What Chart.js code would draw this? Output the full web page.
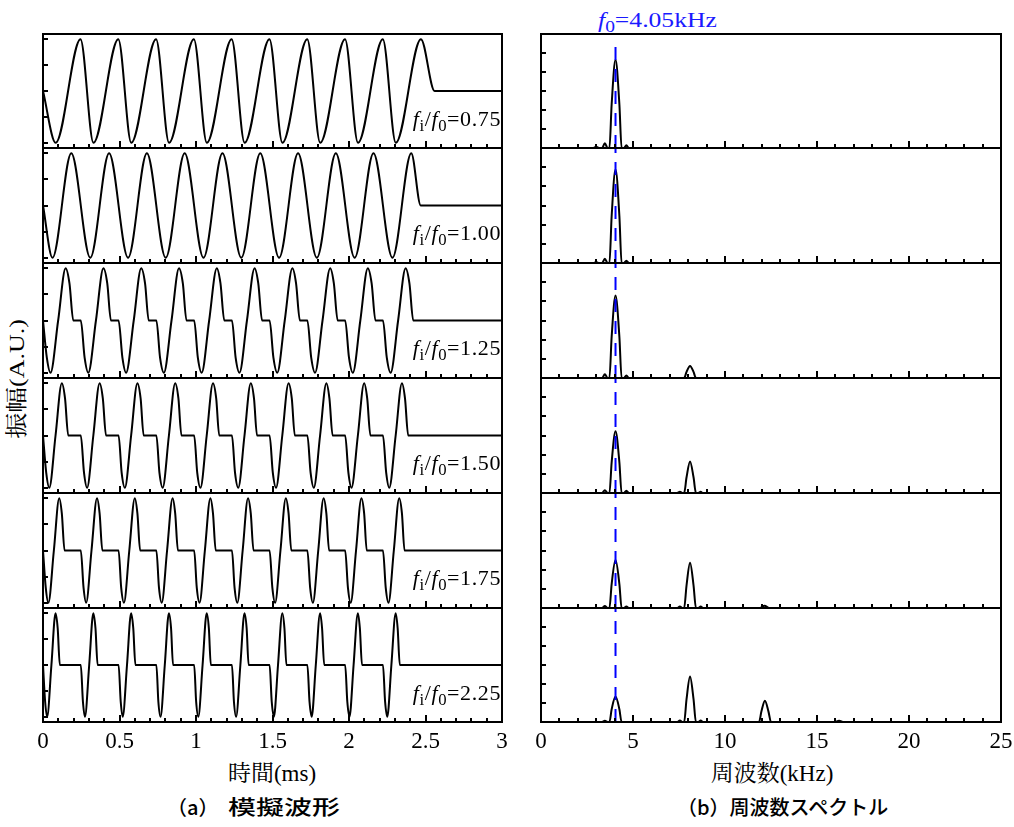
<!DOCTYPE html>
<html lang="ja">
<head>
<meta charset="UTF-8">
<title>模擬波形と周波数スペクトル</title>
<script src="https://cdn.jsdelivr.net/npm/chart.js"></script>
<style>
    body { margin: 0; background: #fff; }
    #page { position: relative; width: 1014px; height: 827px; overflow: hidden; }
    #page canvas { position: absolute; }
    .txt { position: absolute; white-space: nowrap; color: #000;
           font-family: "Liberation Serif", "Times New Roman", Times, "DejaVu Serif", "Noto Serif CJK JP", "Noto Sans CJK JP", serif; }
    .ratio { font-size: 22px; line-height: 22px; letter-spacing: 0.6px; }
    .txt sub { font-size: 0.76em; vertical-align: -0.3em; line-height: 0; }
    .axis-title { font-size: 23px; line-height: 24px; width: 300px; text-align: center; }
    .sub-title { font-family: "Noto Sans CJK JP", sans-serif; font-size: 20px; line-height: 24px; font-weight: 500; }
    .sub-title .wide { display: inline-block; transform: scaleX(1.4); transform-origin: 0 50%; margin-left: 9px; }
    .ytitle { font-size: 22px; line-height: 22px; transform: translate(-50%, -50%) rotate(-90deg) scaleX(1.18); }
    .f0 { color: #1a1aff; font-size: 21px; line-height: 22px; transform: scaleX(1.22); transform-origin: 0 50%; }
</style>
</head>
<body>
<div id="page">
    <div class="txt f0" style="left:598px; top:9px"><i>f</i><sub>0</sub>=4.05kHz</div>
    <div class="txt ytitle" style="left:17px; top:379px">振幅(A.U.)</div>
    <div class="txt axis-title" style="left:122px; top:762px">時間(ms)</div>
    <div class="txt axis-title" style="left:622px; top:762px">周波数(kHz)</div>
    <div class="txt sub-title" style="left:167px; top:795px">（a）<span class="wide">模擬波形</span></div>
    <div class="txt sub-title" style="left:677px; top:795px">（b）周波数スペクトル</div>
</div>

<script>
    // tick labels / categories
    const waveTicks = [0, 0.5, 1, 1.5, 2, 2.5, 3];
    const specTicks = [0, 5, 10, 15, 20, 25];
    const ratios = ['0.75', '1.00', '1.25', '1.50', '1.75', '2.25'];
    const f0 = 4.05;

    // waveforms (time ms, amplitude)
    const wave075 = [[0,0],[0.083,-1],[0.245,1],[0.330,-1],[0.492,1],[0.577,-1],[0.739,1],[0.824,-1],
        [0.986,1],[1.071,-1],[1.233,1],[1.318,-1],[1.480,1],[1.565,-1],[1.727,1],[1.812,-1],[1.974,1],
        [2.059,-1],[2.221,1],[2.306,-1],[2.470,1],[2.560,0],[3,0]];
    const wave100 = [[0,0],[0.062,-1],[0.185,1],[0.309,-1],[0.432,1],[0.556,-1],[0.679,1],[0.802,-1],
        [0.926,1],[1.049,-1],[1.173,1],[1.296,-1],[1.420,1],[1.543,-1],[1.667,1],[1.790,-1],[1.914,1],
        [2.037,-1],[2.160,1],[2.284,-1],[2.407,1],[2.469,0],[3,0]];
    const wave125 = [
        [0,0],[0.025,-0.71],[0.049,-1],[0.099,0],[0.148,1],[0.173,0.71],[0.198,0],
        [0.247,0],[0.272,-0.71],[0.296,-1],[0.346,0],[0.395,1],[0.420,0.71],[0.444,0],
        [0.494,0],[0.519,-0.71],[0.543,-1],[0.593,0],[0.642,1],[0.667,0.71],[0.691,0],
        [0.741,0],[0.765,-0.71],[0.790,-1],[0.840,0],[0.889,1],[0.914,0.71],[0.938,0],
        [0.988,0],[1.012,-0.71],[1.037,-1],[1.086,0],[1.136,1],[1.160,0.71],[1.185,0],
        [1.235,0],[1.259,-0.71],[1.284,-1],[1.333,0],[1.383,1],[1.407,0.71],[1.432,0],
        [1.481,0],[1.506,-0.71],[1.531,-1],[1.580,0],[1.630,1],[1.654,0.71],[1.679,0],
        [1.728,0],[1.753,-0.71],[1.778,-1],[1.827,0],[1.877,1],[1.901,0.71],[1.926,0],
        [1.975,0],[2.000,-0.71],[2.025,-1],[2.074,0],[2.123,1],[2.148,0.71],[2.173,0],
        [2.222,0],[2.247,-0.71],[2.272,-1],[2.321,0],[2.370,1],[2.395,0.71],[2.420,0],[3,0]];
    const wave150 = [
        [0,0],[0.021,-0.71],[0.041,-1],[0.082,0],[0.123,1],[0.144,0.71],[0.165,0],
        [0.247,0],[0.268,-0.71],[0.288,-1],[0.329,0],[0.370,1],[0.391,0.71],[0.412,0],
        [0.494,0],[0.514,-0.71],[0.535,-1],[0.576,0],[0.617,1],[0.638,0.71],[0.658,0],
        [0.741,0],[0.761,-0.71],[0.782,-1],[0.823,0],[0.864,1],[0.885,0.71],[0.905,0],
        [0.988,0],[1.008,-0.71],[1.029,-1],[1.070,0],[1.111,1],[1.132,0.71],[1.152,0],
        [1.235,0],[1.255,-0.71],[1.276,-1],[1.317,0],[1.358,1],[1.379,0.71],[1.399,0],
        [1.481,0],[1.502,-0.71],[1.523,-1],[1.564,0],[1.605,1],[1.626,0.71],[1.646,0],
        [1.728,0],[1.749,-0.71],[1.770,-1],[1.811,0],[1.852,1],[1.872,0.71],[1.893,0],
        [1.975,0],[1.996,-0.71],[2.016,-1],[2.058,0],[2.099,1],[2.119,0.71],[2.140,0],
        [2.222,0],[2.243,-0.71],[2.263,-1],[2.305,0],[2.346,1],[2.366,0.71],[2.387,0],[3,0]];
    const wave175 = [
        [0,0],[0.018,-0.71],[0.035,-1],[0.071,0],[0.106,1],[0.123,0.71],[0.141,0],
        [0.247,0],[0.265,-0.71],[0.282,-1],[0.317,0],[0.353,1],[0.370,0.71],[0.388,0],
        [0.494,0],[0.511,-0.71],[0.529,-1],[0.564,0],[0.600,1],[0.617,0.71],[0.635,0],
        [0.741,0],[0.758,-0.71],[0.776,-1],[0.811,0],[0.847,1],[0.864,0.71],[0.882,0],
        [0.988,0],[1.005,-0.71],[1.023,-1],[1.058,0],[1.094,1],[1.111,0.71],[1.129,0],
        [1.235,0],[1.252,-0.71],[1.270,-1],[1.305,0],[1.340,1],[1.358,0.71],[1.376,0],
        [1.481,0],[1.499,-0.71],[1.517,-1],[1.552,0],[1.587,1],[1.605,0.71],[1.623,0],
        [1.728,0],[1.746,-0.71],[1.764,-1],[1.799,0],[1.834,1],[1.852,0.71],[1.870,0],
        [1.975,0],[1.993,-0.71],[2.011,-1],[2.046,0],[2.081,1],[2.099,0.71],[2.116,0],
        [2.222,0],[2.240,-0.71],[2.258,-1],[2.293,0],[2.328,1],[2.346,0.71],[2.363,0],[3,0]];
    const wave225 = [
        [0,0],[0.014,-0.71],[0.027,-1],[0.055,0],[0.082,1],[0.096,0.71],[0.110,0],
        [0.247,0],[0.261,-0.71],[0.274,-1],[0.302,0],[0.329,1],[0.343,0.71],[0.357,0],
        [0.494,0],[0.508,-0.71],[0.521,-1],[0.549,0],[0.576,1],[0.590,0.71],[0.604,0],
        [0.741,0],[0.754,-0.71],[0.768,-1],[0.796,0],[0.823,1],[0.837,0.71],[0.850,0],
        [0.988,0],[1.001,-0.71],[1.015,-1],[1.043,0],[1.070,1],[1.084,0.71],[1.097,0],
        [1.235,0],[1.248,-0.71],[1.262,-1],[1.290,0],[1.317,1],[1.331,0.71],[1.344,0],
        [1.481,0],[1.495,-0.71],[1.509,-1],[1.536,0],[1.564,1],[1.578,0.71],[1.591,0],
        [1.728,0],[1.742,-0.71],[1.756,-1],[1.783,0],[1.811,1],[1.824,0.71],[1.838,0],
        [1.975,0],[1.989,-0.71],[2.003,-1],[2.030,0],[2.058,1],[2.071,0.71],[2.085,0],
        [2.222,0],[2.236,-0.71],[2.250,-1],[2.277,0],[2.305,1],[2.318,0.71],[2.332,0],[3,0]];

    // spectra (kHz, amplitude)
    const spec075 = [[0,0],[2.85,0],[3.0,0.06],[3.15,0],[3.32,0],[3.47,0.25],[3.62,0],[3.72,0],
        [3.84,2.3],[4.05,4.64],[4.26,2.3],[4.38,0],[4.5,0],[4.64,0.14],[4.78,0],[25,0]];
    const spec100 = [[0,0],[2.85,0],[3.0,0.05],[3.15,0],[3.32,0],[3.47,0.22],[3.62,0],[3.72,0],
        [3.84,2.45],[4.05,4.88],[4.26,2.45],[4.38,0],[4.5,0],[4.64,0.12],[4.78,0],[25,0]];
    const spec125 = [[0,0],[3.32,0],[3.47,0.2],[3.62,0],[3.72,0],[3.84,2.15],[4.05,4.3],[4.26,2.15],
        [4.38,0],[4.5,0],[4.64,0.13],[4.78,0],[7.78,0],[7.91,0.32],[8.1,0.63],[8.29,0.32],[8.42,0],[25,0]];
    const spec150 = [[0,0],[3.32,0],[3.47,0.15],[3.62,0],[3.72,0],[3.84,1.6],[4.05,3.22],[4.26,1.6],
        [4.38,0],[4.5,0],[4.64,0.12],[4.78,0],[7.4,0],[7.55,0.07],[7.68,0],[7.78,0],[7.91,0.82],
        [8.1,1.65],[8.29,0.82],[8.42,0],[8.55,0],[8.68,0.06],[8.8,0],[25,0]];
    const spec175 = [[0,0],[3.32,0],[3.47,0.1],[3.62,0],[3.72,0],[3.84,1.25],[4.05,2.5],[4.26,1.25],
        [4.38,0],[4.5,0],[4.64,0.08],[4.78,0],[7.4,0],[7.55,0.08],[7.68,0],[7.78,0],[7.91,1.18],
        [8.1,2.36],[8.29,1.18],[8.42,0],[8.55,0],[8.68,0.08],[8.8,0],[11.9,0],[12.15,0.12],[12.4,0],[25,0]];
    const spec225 = [[0,0],[3.32,0],[3.47,0.06],[3.62,0],[3.72,0],[3.84,0.67],[4.05,1.34],[4.26,0.67],
        [4.38,0],[7.4,0],[7.55,0.08],[7.68,0],[7.78,0],[7.91,1.2],[8.1,2.39],[8.29,1.2],[8.42,0],
        [8.55,0],[8.68,0.08],[8.8,0],[11.85,0],[11.98,0.56],[12.17,1.12],[12.36,0.56],[12.5,0],
        [15.95,0],[16.2,0.07],[16.45,0],[25,0]];

    const waves = [wave075, wave100, wave125, wave150, wave175, wave225];
    const spectra = [spec075, spec100, spec125, spec150, spec175, spec225];

    // panel geometry
    const rowEdges = [34, 148, 263, 378, 493, 608, 722];
    const leftX = [43, 502];
    const rightX = [541, 1001];
    const page = document.getElementById('page');
    const serifStack = '"Liberation Serif", "Times New Roman", Times, "DejaVu Serif", serif';

    const frame = {
        id: 'frame',
        afterDraw(chart, args, o) {
            const ctx = chart.ctx;
            const a = chart.chartArea;
            const xs = chart.scales.x, ys = chart.scales.y;
            ctx.save();
            ctx.strokeStyle = '#000';
            ctx.lineWidth = 2;
            ctx.strokeRect(a.left, a.top, a.right - a.left, a.bottom - a.top);

            ctx.beginPath();
            const n = Math.round((o.xMax - o.xMin) / o.minor);
            for (let i = 1; i < n; i++) {
                const v = o.xMin + i * o.minor;
                const r = v / o.major;
                const isMajor = Math.abs(r - Math.round(r)) < 1e-6;
                const px = Math.round(xs.getPixelForValue(v));
                ctx.moveTo(px, a.bottom);
                ctx.lineTo(px, a.bottom - (isMajor ? 7 : 4));
            }
            o.yTicks.forEach(v => {
                const py = Math.round(ys.getPixelForValue(v));
                ctx.moveTo(a.left, py);
                ctx.lineTo(a.left + 5, py);
            });
            ctx.stroke();

            if (o.labels) {
                ctx.fillStyle = '#000';
                ctx.font = '23px ' + serifStack;
                ctx.textAlign = 'center';
                ctx.textBaseline = 'middle';
                o.labels.forEach(v => {
                    ctx.fillText(String(v), xs.getPixelForValue(v), a.bottom + 20);
                });
            }
            ctx.restore();
        }
    };

    function makePanel(kind, row) {
        const last = row === rowEdges.length - 2;
        const pad = {left: 16, right: 16, top: 4, bottom: last ? 36 : 4};
        const xr = kind === 'wave' ? leftX : rightX;
        const canvas = document.createElement('canvas');
        canvas.width = xr[1] - xr[0] + pad.left + pad.right;
        canvas.height = rowEdges[row + 1] - rowEdges[row] + pad.top + pad.bottom;
        canvas.style.left = (xr[0] - pad.left) + 'px';
        canvas.style.top = (rowEdges[row] - pad.top) + 'px';
        page.appendChild(canvas);

        const datasets = [];
        let xMin, xMax, yMin, yMax, frameOpts;
        if (kind === 'wave') {
            xMin = 0; xMax = 3; yMin = -1.1; yMax = 1.1;
            datasets.push({data: waves[row], borderColor: '#000'});
            frameOpts = {xMin, xMax, minor: 0.1, major: 0.5, yTicks: [-1, -0.5, 0, 0.5, 1],
                labels: last ? waveTicks : null};
        } else {
            xMin = 0; xMax = 25; yMin = 0; yMax = 6;
            datasets.push({
                data: [[f0, 0], [f0, row === 0 ? 5.42 : 6]],
                borderColor: '#0000ff', borderWidth: 2, borderDash: [13, 9],
                cubicInterpolationMode: 'default', tension: 0
            });
            datasets.push({data: spectra[row], borderColor: '#000'});
            frameOpts = {xMin, xMax, minor: 1, major: 5, yTicks: [1, 2, 3, 4, 5],
                labels: last ? specTicks : null};
        }

        new Chart(canvas, {
            type: 'line',
            data: {datasets: datasets},
            options: {
                responsive: false,
                animation: false,
                events: [],
                layout: {padding: pad},
                datasets: {
                    line: {
                        borderWidth: 2,
                        pointRadius: 0,
                        fill: false,
                        cubicInterpolationMode: 'monotone'
                    }
                },
                plugins: {
                    colors: {enabled: false},
                    legend: {display: false},
                    tooltip: {enabled: false},
                    frame: frameOpts
                },
                scales: {
                    x: {type: 'linear', min: xMin, max: xMax, display: false},
                    y: {type: 'linear', min: yMin, max: yMax, display: false}
                }
            },
            plugins: [frame]
        });

        if (kind === 'wave') {
            const lab = document.createElement('div');
            lab.className = 'txt ratio';
            lab.style.right = (1014 - 501) + 'px';
            lab.style.top = (rowEdges[row] + 92 - 18) + 'px';
            lab.innerHTML = '<i>f</i><sub>i</sub>/<i>f</i><sub>0</sub>=' + ratios[row];
            page.appendChild(lab);
        }
    }

    for (let r = 0; r < 6; r++) {
        makePanel('wave', r);
        makePanel('spec', r);
    }
</script>
</body>
</html>
